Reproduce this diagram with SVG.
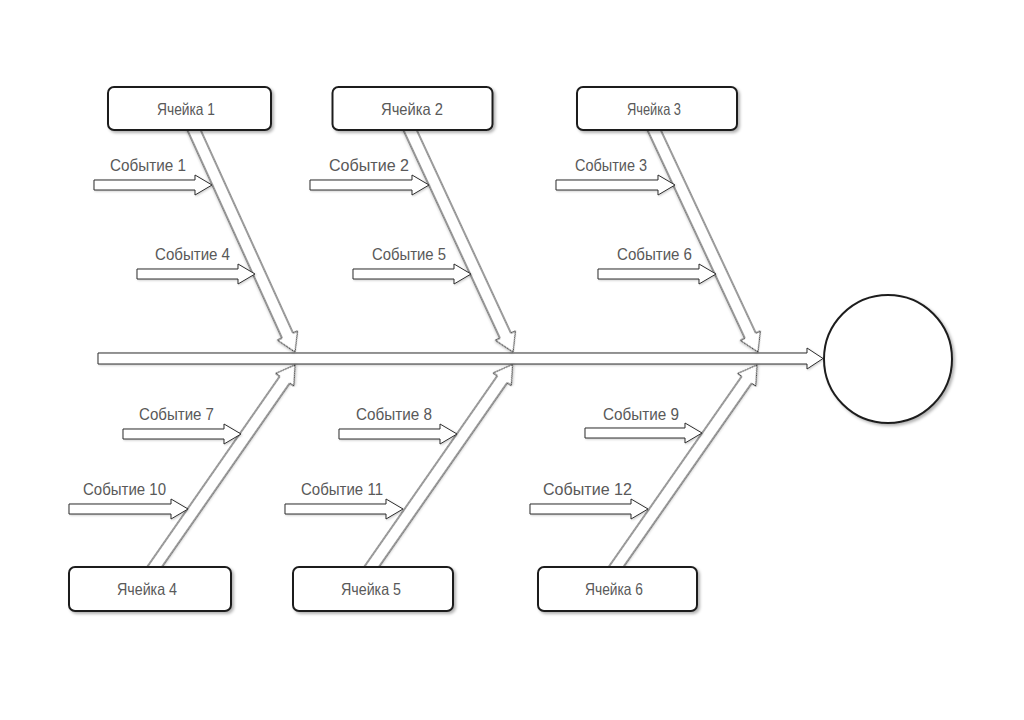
<svg xmlns="http://www.w3.org/2000/svg" width="1024" height="720" viewBox="0 0 1024 720">
<defs>
<filter id="sh" x="-10%" y="-10%" width="130%" height="130%">
<feDropShadow dx="2" dy="2" stdDeviation="1.5" flood-color="#000" flood-opacity="0.3"/>
</filter>
<filter id="ash" x="-10%" y="-10%" width="130%" height="130%">
<feDropShadow dx="1" dy="1" stdDeviation="0.8" flood-color="#000" flood-opacity="0.2"/>
</filter>
</defs>
<style>
.box{fill:#fff;stroke:#1e1e1e;stroke-width:2;filter:url(#sh)}
.arr{fill:#fff;stroke:#2e2e2e;stroke-width:1;filter:url(#ash)}
.lbl{font-family:"Liberation Sans",Arial,sans-serif;fill:#595959}
.cell{font-size:16.5px}
.ev{font-size:16px}
</style>
<rect width="1024" height="720" fill="#fff"/>
<g id="connectors">
<polygon id="spine" class="arr" points="98,353 807,353 807,348 823,358.5 807,369 807,364 98,364"/>
<polygon class="arr" transform="translate(191.5,124.5) rotate(65.54)" points="0,-6 231.9,-6 231.9,-11 249.9,0 231.9,11 231.9,6 0,6"/>
<polygon class="arr" transform="translate(407.5,124.5) rotate(65.12)" points="0,-6 232.8,-6 232.8,-11 250.8,0 232.8,11 232.8,6 0,6"/>
<polygon class="arr" transform="translate(651.5,124.5) rotate(64.92)" points="0,-6 233.2,-6 233.2,-11 251.2,0 233.2,11 233.2,6 0,6"/>
<polygon class="arr" transform="translate(151,572) rotate(-55.18)" points="0,-6 234.2,-6 234.2,-11 252.2,0 234.2,11 234.2,6 0,6"/>
<polygon class="arr" transform="translate(368,572) rotate(-55.14)" points="0,-6 234.9,-6 234.9,-11 252.9,0 234.9,11 234.9,6 0,6"/>
<polygon class="arr" transform="translate(612.5,572) rotate(-55.08)" points="0,-6 234.4,-6 234.4,-11 252.4,0 234.4,11 234.4,6 0,6"/>
</g>
<g id="head"><circle cx="888" cy="359" r="64" class="box"/></g>
<g id="cell1"><rect class="box" x="108" y="87" width="163" height="43" rx="6"/><text class="lbl cell" x="157" y="115" textLength="58" lengthAdjust="spacingAndGlyphs">Ячейка 1</text></g>
<g id="cell2"><rect class="box" x="332.5" y="87" width="160" height="43" rx="6"/><text class="lbl cell" x="381" y="115" textLength="62" lengthAdjust="spacingAndGlyphs">Ячейка 2</text></g>
<g id="cell3"><rect class="box" x="577" y="87" width="160" height="43" rx="6"/><text class="lbl cell" x="627" y="115" textLength="54" lengthAdjust="spacingAndGlyphs">Ячейка 3</text></g>
<g id="cell4"><rect class="box" x="69" y="567" width="162" height="44" rx="6"/><text class="lbl cell" x="117" y="595" textLength="60" lengthAdjust="spacingAndGlyphs">Ячейка 4</text></g>
<g id="cell5"><rect class="box" x="293" y="567" width="160" height="44" rx="6"/><text class="lbl cell" x="341" y="595" textLength="60" lengthAdjust="spacingAndGlyphs">Ячейка 5</text></g>
<g id="cell6"><rect class="box" x="538" y="567" width="159" height="44" rx="6"/><text class="lbl cell" x="585" y="595" textLength="58" lengthAdjust="spacingAndGlyphs">Ячейка 6</text></g>
<g id="ev1"><polygon class="arr" points="94,180 195,180 195,175 212,185 195,195 195,190 94,190"/><text class="lbl ev" x="110" y="170.5" textLength="76" lengthAdjust="spacingAndGlyphs">Событие 1</text></g>
<g id="ev4"><polygon class="arr" points="137,269 238,269 238,264 255,274 238,284 238,279 137,279"/><text class="lbl ev" x="155" y="260" textLength="75" lengthAdjust="spacingAndGlyphs">Событие 4</text></g>
<g id="ev2"><polygon class="arr" points="310,180 412,180 412,175 429,185 412,195 412,190 310,190"/><text class="lbl ev" x="329" y="170.5" textLength="80" lengthAdjust="spacingAndGlyphs">Событие 2</text></g>
<g id="ev5"><polygon class="arr" points="353,269 454,269 454,264 471,274 454,284 454,279 353,279"/><text class="lbl ev" x="372" y="260" textLength="74" lengthAdjust="spacingAndGlyphs">Событие 5</text></g>
<g id="ev3"><polygon class="arr" points="556,180 658,180 658,175 675,185 658,195 658,190 556,190"/><text class="lbl ev" x="575" y="170.5" textLength="72" lengthAdjust="spacingAndGlyphs">Событие 3</text></g>
<g id="ev6"><polygon class="arr" points="598,269 699,269 699,264 716,274 699,284 699,279 598,279"/><text class="lbl ev" x="617" y="260" textLength="75" lengthAdjust="spacingAndGlyphs">Событие 6</text></g>
<g id="ev7"><polygon class="arr" points="123,429 224,429 224,424 241,434 224,444 224,439 123,439"/><text class="lbl ev" x="139" y="419.5" textLength="75" lengthAdjust="spacingAndGlyphs">Событие 7</text></g>
<g id="ev10"><polygon class="arr" points="69,504 171,504 171,499 188,509 171,519 171,514 69,514"/><text class="lbl ev" x="83" y="495" textLength="83" lengthAdjust="spacingAndGlyphs">Событие 10</text></g>
<g id="ev8"><polygon class="arr" points="339,429 440,429 440,424 457,434 440,444 440,439 339,439"/><text class="lbl ev" x="356" y="419.5" textLength="76" lengthAdjust="spacingAndGlyphs">Событие 8</text></g>
<g id="ev11"><polygon class="arr" points="285,504 386,504 386,499 403,509 386,519 386,514 285,514"/><text class="lbl ev" x="301" y="495" textLength="82" lengthAdjust="spacingAndGlyphs">Событие 11</text></g>
<g id="ev9"><polygon class="arr" points="585,428 685,428 685,423 702,433 685,443 685,438 585,438"/><text class="lbl ev" x="603" y="419.5" textLength="76" lengthAdjust="spacingAndGlyphs">Событие 9</text></g>
<g id="ev12"><polygon class="arr" points="530,504 631,504 631,499 648,509 631,519 631,514 530,514"/><text class="lbl ev" x="543" y="495" textLength="89" lengthAdjust="spacingAndGlyphs">Событие 12</text></g>
</svg>
